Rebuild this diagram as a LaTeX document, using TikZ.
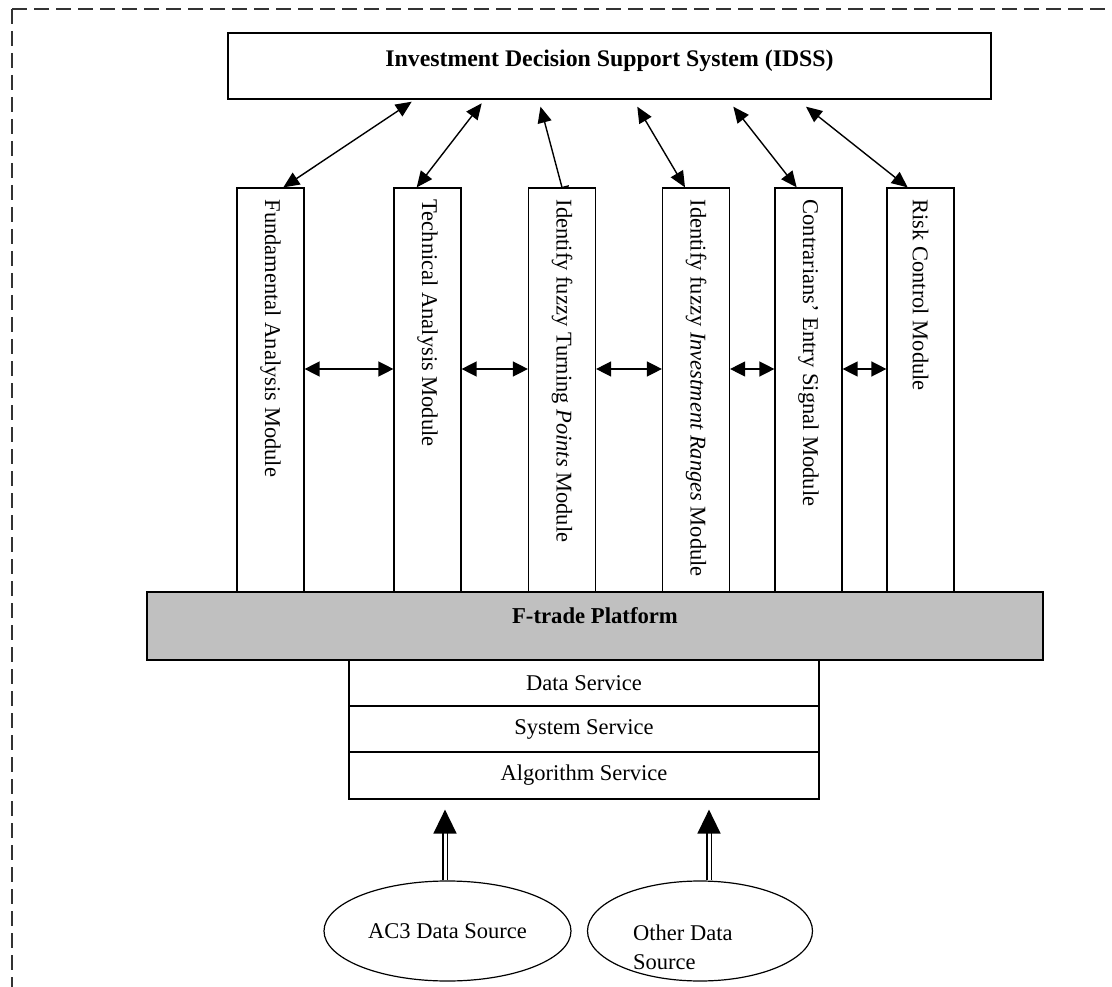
\documentclass[tikz,border=0pt]{standalone}
\usepackage{fontspec}
\setmainfont{Liberation Serif}
\usetikzlibrary{arrows.meta,shapes.geometric,backgrounds}
\definecolor{platgray}{HTML}{C0C0C0}
\definecolor{framegray}{HTML}{333333}
\newcommand{\fsreg}{\fontsize{22.5}{29}\selectfont}
\newcommand{\fstitle}{\fontsize{23.8}{29}\selectfont\bfseries}
\newcommand{\fsplat}{\fontsize{22.7}{29}\selectfont\bfseries}
\begin{document}
\begin{tikzpicture}[x=1pt,y=-1pt,
  frame/.style={draw=framegray, line width=1.5pt, dash pattern=on 15pt off 7pt},
  boxstyle/.style={draw, line width=1.2pt, inner sep=0pt},
  modbox/.style={boxstyle, fill=white, minimum width=67pt, minimum height=404pt},
  modtext/.style={rotate=-90, inner sep=0pt, font=\fsreg, anchor=west},
  diag/.style={line width=1.4pt, {Triangle[length=16pt,width=14pt]}-{Triangle[length=16pt,width=14pt]}},
  horiz/.style={line width=1.4pt, {Triangle[length=15pt,width=15pt]}-{Triangle[length=15pt,width=15pt]}},
  feed/.style={double, line width=1.5pt, double distance=3pt, -{Triangle[length=24pt,width=23pt]}},
  svc/.style={boxstyle, minimum width=470pt, font=\fsreg},
  src/.style={ellipse, draw, line width=1.2pt, inner sep=0pt, minimum height=100pt}
]
\useasboundingbox (0,0) rectangle (1112,987);
\draw[frame] (12,9) -- (12,1010);
\draw[frame] (12,9) -- (1130,9);

% IDSS
\node[boxstyle, minimum width=763pt, minimum height=66pt] (idss) at (609.5,66) {};
\node[font=\fstitle, inner sep=0pt] (idsst) at (609.5,61) {Investment Decision Support System (IDSS)};

% arrow ends under IDSS
\coordinate (i1) at (411.7,101.7);
\coordinate (i2) at (481.7,103.3);
\coordinate (i3) at (540.5,106.7);
\coordinate (i4) at (637.3,106.7);
\coordinate (i5) at (733.3,106.7);
\coordinate (i6) at (806,106.7);

% modules
\node[modbox] (m1) at (270.5,390) {};
\node[modbox] (m2) at (427.5,390) {};
\node[modbox] (m3) at (562,390) {};
\node[modbox] (m4) at (696,390) {};
\node[modbox] (m5) at (808.5,390) {};
\node[modbox] (m6) at (920.5,390) {};

\node[modtext] (t1) at ([yshift=-12pt]m1.north) {Fundamental Analysis Module};
\node[modtext] (t2) at ([yshift=-12pt]m2.north) {Technical Analysis Module};
\node[modtext] (t3) at ([yshift=-12pt]m3.north) {Identify fuzzy Turning \textit{Points} Module};
\node[modtext] (t4) at ([yshift=-12pt]m4.north) {Identify fuzzy \textit{Investment Ranges} Module};
\node[modtext] (t5) at ([yshift=-12pt]m5.north) {Contrarians’ Entry Signal Module};
\node[modtext] (t6) at ([yshift=-12pt]m6.north) {Risk Control Module};

\begin{pgfonlayer}{background}
\draw[diag] (i1) -- ([xshift=12.8pt]m1.north);
\draw[diag] (i2) -- ([xshift=-10.8pt]m2.north);
\draw[diag] (i3) -- ([xshift=4pt,yshift=-15pt]m3.north);
\draw[diag] (i4) -- ([xshift=-11pt]m4.north);
\draw[diag] (i5) -- ([xshift=-11.8pt]m5.north);
\draw[diag] (i6) -- ([xshift=-12.8pt]m6.north);
\end{pgfonlayer}

% horizontal links
\draw[horiz] ([yshift=21pt]m1.east) -- ([yshift=21pt]m2.west);
\draw[horiz] ([yshift=21pt]m2.east) -- ([yshift=21pt]m3.west);
\draw[horiz] ([yshift=21pt]m3.east) -- ([yshift=21pt]m4.west);
\draw[horiz] ([yshift=21pt]m4.east) -- ([yshift=21pt]m5.west);
\draw[horiz] ([yshift=21pt]m5.east) -- ([yshift=21pt]m6.west);

% platform
\node[boxstyle, fill=platgray, minimum width=896pt, minimum height=68pt] (ftrade) at (595,626) {};
\node[font=\fsplat, inner sep=0pt] (ftradet) at (595,616) {F-trade Platform};

% services
\node[svc, minimum height=46pt] (ds) at (584,683) {Data Service};
\node[svc, minimum height=46pt] (ss) at (584,729) {System Service};
\node[svc, minimum height=47pt] (as) at (584,775.5) {Algorithm Service};

% sources
\node[src, minimum width=247pt, font=\fsreg] (src1) at (447.5,931) {AC3 Data Source};
\node[src, minimum width=225pt] (src2) at (700,931) {};
\node[font=\fsreg, align=left, inner sep=0pt, anchor=west] (src2t) at (633,947.5) {Other Data\\Source};

\draw[feed, shorten >=10pt] ([xshift=-2.5pt]src1.north) -- ([xshift=-2.5pt]src1.north |- as.south);
\draw[feed, shorten >=10pt] ([xshift=9pt]src2.north) -- ([xshift=9pt]src2.north |- as.south);
\end{tikzpicture}
\end{document}
